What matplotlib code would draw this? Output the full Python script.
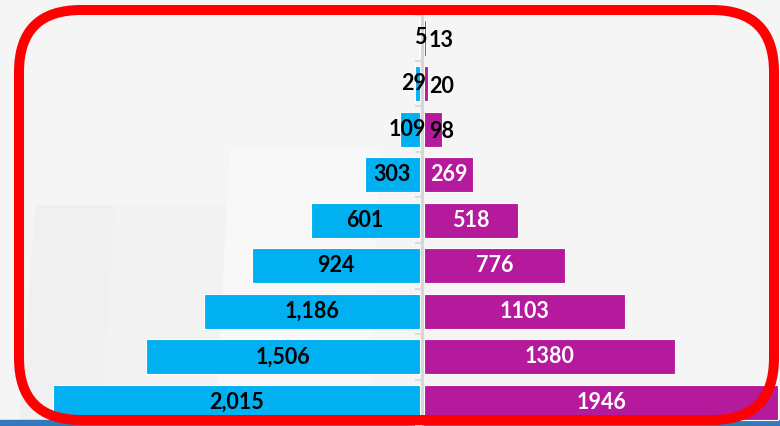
"""
Population pyramid: blue bars to the left, magenta bars to the right,
framed by a red rounded box.
"""
import matplotlib
matplotlib.use("Agg")
import matplotlib.pyplot as plt
from matplotlib.patches import FancyBboxPatch, Rectangle

# data, top row first
left_values = [5, 29, 109, 303, 601, 924, 1186, 1506, 2015]
right_values = [13, 20, 98, 269, 518, 776, 1103, 1380, 1946]
left_labels = ["5", "29", "109", "303", "601", "924", "1,186", "1,506", "2,015"]
right_labels = ["13", "20", "98", "269", "518", "776", "1103", "1380", "1946"]

BLUE = "#00b0f0"
MAGENTA = "#b5199c"
FONT = "Lato"
FS = 15.5

W, H = 780, 426
PX = 0.182          # pixels per unit of value
CENTER = 422        # pixel column of the zero line
ROW0, ROW_STEP = 38, 45.56
GAP = 2 / PX

fig = plt.figure(figsize=(W / 100, H / 100), dpi=100)
fig.patch.set_facecolor("#f5f5f5")

# background decoration (pixel coordinates)
bg = fig.add_axes([0, 0, 1, 1], zorder=0)
bg.set_xlim(0, W)
bg.set_ylim(H, 0)
bg.axis("off")
bg.add_patch(Rectangle((0, 0), W, H, color="#f5f5f5"))
bg.fill([35, 115, 100, 20], [205, 205, 420, 420], color="#f0f0f0", lw=0)
bg.fill([115, 230, 215, 100], [205, 205, 420, 420], color="#f2f2f2", lw=0)
bg.fill([230, 380, 370, 215], [150, 150, 420, 420], color="#f8f8f8", lw=0)
bg.add_patch(Rectangle((0, 420), W, 6, color="#3579bd"))

# bars
ax = fig.add_axes([0, 0, 1, 1], zorder=1)
ax.patch.set_alpha(0)
ax.set_xlim(-CENTER / PX, (W - CENTER) / PX)
ax.set_ylim((H - ROW0) / ROW_STEP, -ROW0 / ROW_STEP)
ax.axis("off")

rows = list(range(len(left_values)))
ax.barh(rows, [-v for v in left_values], left=-GAP, height=0.77,
        color=BLUE, edgecolor="white", linewidth=0.8)
ax.barh(rows, right_values, left=GAP, height=0.77,
        color=MAGENTA, edgecolor="white", linewidth=0.8)

# zero line and ticks
edges = [r - 0.5 for r in rows] + [rows[-1] + 0.5]
ax.vlines(0, edges[0], edges[-1], color="#d6d6d6", lw=2.2, zorder=3)
ax.hlines(edges, -7 / PX, 0, color="#d6d6d6", lw=1.2, zorder=3)

# labels
for r, v, lab in zip(rows, left_values, left_labels):
    if v < 200:
        ax.annotate(lab, (0, r), xytext=(3, 0), textcoords="offset points",
                    ha="right", va="center", fontsize=FS, fontweight="bold",
                    family=FONT, color="black", zorder=4)
    else:
        ax.text(-GAP - v / 2, r, lab, ha="center", va="center", fontsize=FS,
                fontweight="bold", family=FONT, color="black", zorder=4)
for r, v, lab in zip(rows, right_values, right_labels):
    if v < 200:
        ax.annotate(lab, (0, r), xytext=(5, -2), textcoords="offset points",
                    ha="left", va="center", fontsize=FS, fontweight="bold",
                    family=FONT, color="black", zorder=4)
    else:
        ax.text(GAP + v / 2, r, lab, ha="center", va="center", fontsize=FS,
                fontweight="bold", family=FONT, color="white", zorder=4)

# red rounded frame
fr = fig.add_axes([0, 0, 1, 1], zorder=2)
fr.patch.set_alpha(0)
fr.set_xlim(0, W)
fr.set_ylim(H, 0)
fr.axis("off")
fr.add_patch(FancyBboxPatch((19, 10), 755, 410,
                            boxstyle="round,pad=0,rounding_size=62",
                            fill=False, edgecolor="#ff0000", linewidth=7.2))

fig.savefig("out.png", dpi=100, facecolor=fig.get_facecolor())
